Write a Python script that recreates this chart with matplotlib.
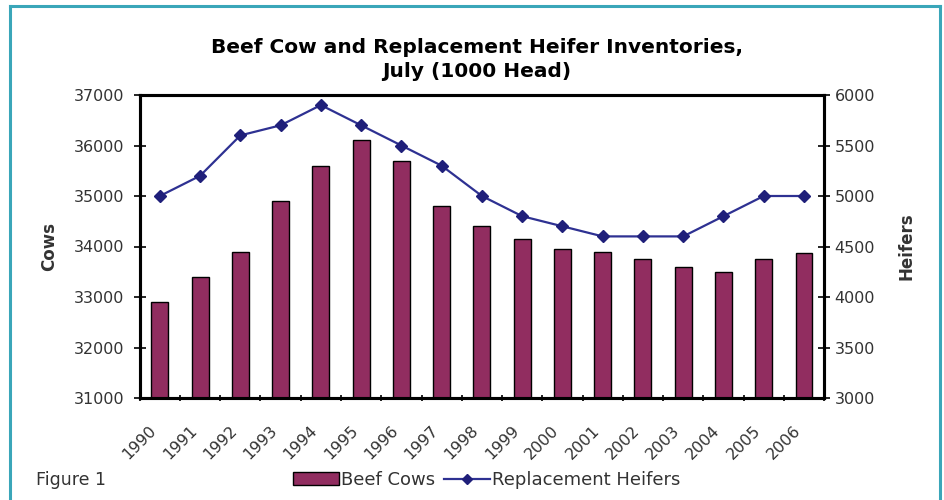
import numpy as np
import matplotlib.pyplot as plt
import matplotlib.transforms as mtransforms
from matplotlib.lines import Line2D
from matplotlib.patches import Patch

plt.rcParams['font.family'] = ['DejaVu Sans']

years = ['1990', '1991', '1992', '1993', '1994', '1995', '1996', '1997', '1998',
         '1999', '2000', '2001', '2002', '2003', '2004', '2005', '2006']
beef_cows = [32900, 33400, 33900, 34900, 35600, 36100, 35700, 34800, 34400,
             34150, 33950, 33900, 33750, 33600, 33500, 33750, 33870]
heifers = [5000, 5200, 5600, 5700, 5900, 5700, 5500, 5300, 5000,
           4800, 4700, 4600, 4600, 4600, 4800, 5000, 5000]

bar_color = '#912d60'
line_color = '#2e3192'
text_color = '#333333'

fig = plt.figure(figsize=(9.44, 5), dpi=100)
ax = fig.add_axes([0.148, 0.204, 0.725, 0.606])
x = np.arange(len(years))

ax.bar(x, beef_cows, width=0.42, color=bar_color, edgecolor='black', linewidth=1.0, zorder=2)
ax.set_ylim(31000, 37000)
ax.set_xlim(-0.5, len(years) - 0.5)
ax.set_yticks(np.arange(31000, 37001, 1000))
ax.set_ylabel('Cows', fontsize=12, fontweight='bold', color=text_color, labelpad=11)

# ticks at category centres for labels, tick marks at the boundaries
ax.set_xticks(x)
ax.set_xticklabels(years, rotation=45, ha='right', rotation_mode='anchor')
ax.tick_params(axis='x', which='major', length=0, pad=18, labelsize=11.5, labelcolor=text_color)
shift = mtransforms.ScaledTranslation(-0.11, 0, fig.dpi_scale_trans)
for lbl in ax.get_xticklabels():
    lbl.set_transform(lbl.get_transform() + shift)
ax.set_xticks(np.arange(-0.5, len(years), 1), minor=True)
ax.tick_params(axis='x', which='minor', length=5, width=1.2, direction='inout')
ax.tick_params(axis='y', length=8, width=1.2, direction='inout', pad=7,
               labelsize=11.5, labelcolor=text_color)

ax2 = ax.twinx()
ax2.plot(x, heifers, color=line_color, linewidth=1.6, marker='D', markersize=6,
         markerfacecolor='#1f1f7a', markeredgecolor='#1f1f7a', zorder=3)
ax2.set_ylim(3000, 6000)
ax2.set_yticks(np.arange(3000, 6001, 500))
ax2.tick_params(axis='y', length=8, width=1.2, direction='inout', labelsize=11.5, labelcolor=text_color)
ax2.set_ylabel('Heifers', fontsize=12, fontweight='bold', color=text_color, labelpad=16)

for a in (ax, ax2):
    for s in a.spines.values():
        s.set_linewidth(2.2)

fig.text(0.505, 0.881, 'Beef Cow and Replacement Heifer Inventories,\nJuly (1000 Head)',
         ha='center', va='center', fontsize=14.5, fontweight='bold', linespacing=1.35)

handles = [Patch(facecolor=bar_color, edgecolor='black', linewidth=1.0),
           Line2D([0], [0], color=line_color, linewidth=1.6, marker='D', markersize=5,
                  markerfacecolor='#1f1f7a', markeredgecolor='#1f1f7a')]
fig.legend(handles, ['Beef Cows', 'Replacement Heifers'], loc='center', ncol=2,
           bbox_to_anchor=(0.516, 0.04), frameon=False, fontsize=13,
           handlelength=2.5, handletextpad=0.15, columnspacing=0.5, labelcolor=text_color)
fig.text(0.038, 0.04, 'Figure 1', fontsize=12.5, color=text_color, va='center')

# teal frame around the figure (open at the bottom)
frame = '#3aa6b9'
fig.add_artist(Line2D([0.0105, 0.0105], [0, 0.988], color=frame, linewidth=2.2, transform=fig.transFigure))
fig.add_artist(Line2D([0.0105, 0.996], [0.988, 0.988], color=frame, linewidth=2.2, transform=fig.transFigure))
fig.add_artist(Line2D([0.996, 0.996], [0, 0.988], color=frame, linewidth=2.2, transform=fig.transFigure))

fig.savefig('out.png', dpi=100)
